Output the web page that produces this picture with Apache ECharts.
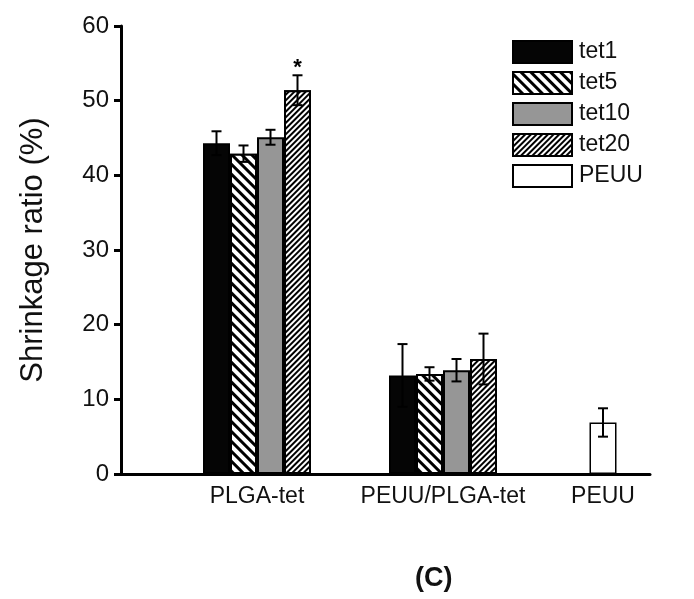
<!DOCTYPE html>
<html>
<head>
<meta charset="utf-8">
<script src="https://cdn.jsdelivr.net/npm/echarts@6/dist/echarts.min.js"></script>
<style>
  html, body { margin: 0; padding: 0; background: #fff; }
  #mychart { width: 694px; height: 599px; }
</style>
</head>
<body>
<div id="mychart"></div>
<script>
// groups of the grouped bars
var categories = ['PLGA-tet', 'PEUU/PLGA-tet'];
var peuuCategory = ['PEUU'];
var seriesNames = ['tet1', 'tet5', 'tet10', 'tet20'];

// shrinkage ratio (%) and error (sd)
var tet1 = [44.3, 13.2];
var tet1Err = [1.6, 4.2];
var tet5 = [42.9, 13.4];
var tet5Err = [1.1, 0.9];
var tet10 = [45.1, 13.9];
var tet10Err = [1.0, 1.5];
var tet20 = [51.4, 15.4];
var tet20Err = [2.0, 3.4];
var peuu = [6.9];
var peuuErr = [1.9];
var tet20Sig = ['*', ''];

// y axis ticks
var yMin = 0;
var yMax = 60;
var yStep = 10;

var BAR_W = 27;
var values = [tet1, tet5, tet10, tet20];
var errors = [tet1Err, tet5Err, tet10Err, tet20Err];
var marks = [null, null, null, tet20Sig];

var fills = [
  { color: '#050505' },
  { color: '#fff', decal: { symbol: 'rect', symbolSize: 1, color: '#000', backgroundColor: '#fff', dashArrayX: [1, 0], dashArrayY: [3, 4], rotation: Math.PI / 4 } },
  { color: '#969696' },
  { color: '#fff', decal: { symbol: 'rect', symbolSize: 1, color: '#000', backgroundColor: '#fff', dashArrayX: [1, 0], dashArrayY: [2, 2], rotation: -Math.PI / 4 } }
];

function errRender(slot, sig) {
  return function (params, api) {
    var c = api.value(0), v = api.value(1), e = api.value(2);
    var top = api.coord([c, v + e]);
    var bot = api.coord([c, v - e]);
    var x = top[0] + slot * BAR_W;
    var st = { stroke: '#000', lineWidth: 2 };
    var kids = [
      { type: 'line', shape: { x1: x, y1: top[1], x2: x, y2: bot[1] }, style: st },
      { type: 'line', shape: { x1: x - 5, y1: top[1], x2: x + 5, y2: top[1] }, style: st },
      { type: 'line', shape: { x1: x - 5, y1: bot[1], x2: x + 5, y2: bot[1] }, style: st }
    ];
    if (sig && sig[params.dataIndex]) {
      kids.push({ type: 'text', x: x, y: top[1] - 7, style: { text: sig[params.dataIndex], fill: '#000', font: 'bold 22px "Liberation Sans", Arial', align: 'center', verticalAlign: 'middle' } });
    }
    return { type: 'group', children: kids };
  };
}

var series = [];
seriesNames.forEach(function (name, i) {
  series.push({
    name: name,
    type: 'bar',
    xAxisIndex: 1,
    yAxisIndex: 1,
    barWidth: BAR_W,
    barGap: '0%',
    itemStyle: Object.assign({ borderColor: '#000', borderWidth: 2 }, fills[i]),
    data: values[i]
  });
});
seriesNames.forEach(function (name, i) {
  series.push({
    name: name + ' err',
    type: 'custom',
    xAxisIndex: 1,
    yAxisIndex: 1,
    z: 5,
    renderItem: errRender(i - 1.5, marks[i]),
    data: categories.map(function (c, k) { return [k, values[i][k], errors[i][k]]; })
  });
});
series.push({
  name: 'PEUU',
  type: 'bar',
  xAxisIndex: 2,
  yAxisIndex: 2,
  barWidth: BAR_W,
  itemStyle: { color: '#fff', borderColor: '#000', borderWidth: 1.5 },
  data: peuu
});
series.push({
  name: 'PEUU err',
  type: 'custom',
  xAxisIndex: 2,
  yAxisIndex: 2,
  z: 5,
  renderItem: errRender(0, null),
  data: peuuCategory.map(function (c, k) { return [k, peuu[k], peuuErr[k]]; })
});

var hiddenY = { type: 'value', min: yMin, max: yMax, interval: yStep, show: false };

var option = {
  backgroundColor: '#fff',
  animation: false,
  textStyle: { fontFamily: '"Liberation Sans", Arial, sans-serif' },
  title: {
    text: '(C)',
    left: 410,
    top: 560,
    textStyle: { fontSize: 27, fontWeight: 'bold', color: '#111' }
  },
  legend: {
    data: ['tet1', 'tet5', 'tet10', 'tet20', 'PEUU'],
    orient: 'vertical',
    left: 512,
    top: 40,
    padding: 0,
    icon: 'rect',
    itemWidth: 59,
    itemHeight: 22,
    itemGap: 7,
    itemStyle: { borderColor: '#000', borderWidth: 2 },
    textStyle: { fontSize: 23, lineHeight: 22, color: '#111', padding: [0, 0, 0, 2] }
  },
  grid: [
    { left: 121, right: 44, top: 26, bottom: 125 },
    { left: 164, right: 158, top: 26, bottom: 125 },
    { left: 560, width: 86, top: 26, bottom: 125 }
  ],
  xAxis: [
    {
      gridIndex: 0, type: 'category', data: [''],
      axisLine: { lineStyle: { color: '#000', width: 3 } },
      axisTick: { show: false }, axisLabel: { show: false }
    },
    {
      gridIndex: 1, type: 'category', data: categories,
      axisLine: { show: false }, axisTick: { show: false },
      axisLabel: { interval: 0, fontSize: 23, color: '#111', margin: 11 }
    },
    {
      gridIndex: 2, type: 'category', data: peuuCategory,
      axisLine: { show: false }, axisTick: { show: false },
      axisLabel: { interval: 0, fontSize: 23, color: '#111', margin: 11 }
    }
  ],
  yAxis: [
    {
      gridIndex: 0, type: 'value', min: yMin, max: yMax, interval: yStep,
      name: 'Shrinkage ratio (%)',
      nameLocation: 'middle',
      nameGap: 72,
      nameTextStyle: { fontSize: 31, color: '#111' },
      axisLine: { show: true, lineStyle: { color: '#000', width: 3 } },
      axisTick: { show: true, length: 7, lineStyle: { color: '#000', width: 3 } },
      axisLabel: { fontSize: 24, color: '#111', margin: 12 },
      splitLine: { show: false }
    },
    Object.assign({ gridIndex: 1 }, hiddenY),
    Object.assign({ gridIndex: 2 }, hiddenY)
  ],
  series: series
};

var myChart = echarts.init(document.getElementById('mychart'));
myChart.setOption(option);
</script>
</body>
</html>
